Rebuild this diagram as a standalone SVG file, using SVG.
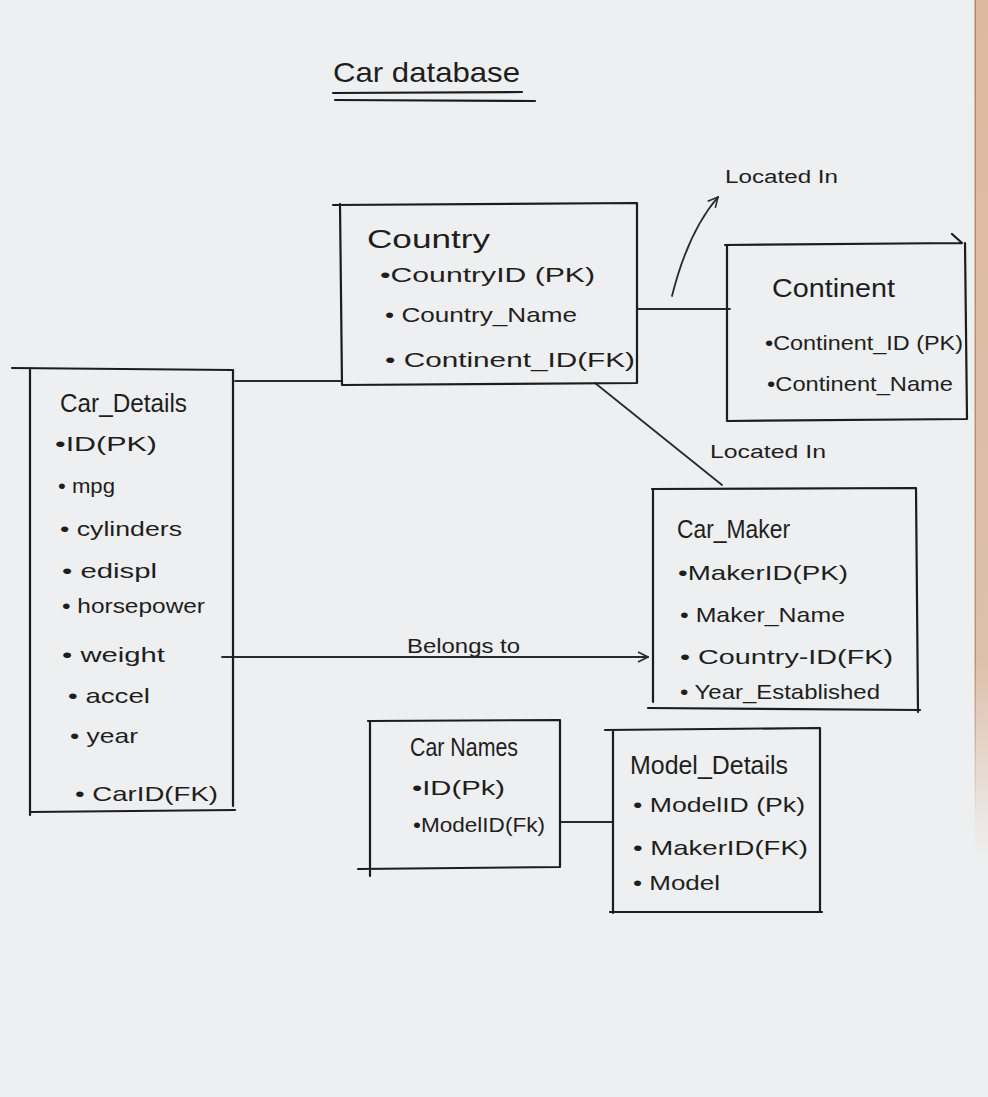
<svg xmlns="http://www.w3.org/2000/svg" width="988" height="1097" viewBox="0 0 988 1097">
<defs>
<style>
.bg{fill:#eeeff0}
.edge{fill:none;stroke:#1c1c1c;stroke-width:2.2;stroke-linecap:round;stroke-linejoin:round}
.conn{fill:none;stroke:#2a2a2a;stroke-width:1.8;stroke-linecap:round}
.t{font-family:"Liberation Sans",Arial,sans-serif;fill:#1e1e1e}
.h{font-size:25px}
.i{font-size:21px}
.l{font-size:18px}
.title{font-size:28px}
</style>
<linearGradient id="strip" x1="0" y1="0" x2="0" y2="1">
<stop offset="0" stop-color="#dcbaa0" stop-opacity="1"/>
<stop offset="0.6" stop-color="#dcbaa0" stop-opacity="0.9"/>
<stop offset="0.78" stop-color="#dcbaa0" stop-opacity="0"/>
</linearGradient>
<linearGradient id="stripline" x1="0" y1="0" x2="0" y2="1">
<stop offset="0" stop-color="#b98662" stop-opacity="1"/>
<stop offset="0.6" stop-color="#b98662" stop-opacity="0.8"/>
<stop offset="0.75" stop-color="#b98662" stop-opacity="0"/>
</linearGradient>
<marker id="open" viewBox="0 0 12 12" refX="11" refY="6" markerWidth="12" markerHeight="12" markerUnits="userSpaceOnUse" orient="auto">
<path d="M1,1 L11,6 L1,11" fill="none" stroke="#2a2a2a" stroke-width="1.6"/>
</marker>
</defs>
<rect class="bg" x="0" y="0" width="988" height="1097"/>
<rect x="975" y="0" width="13" height="1097" fill="url(#strip)"/>
<rect x="974.5" y="0" width="1.5" height="1097" fill="url(#stripline)"/>

<g id="title">
<text class="t title" x="333" y="82" textLength="187" lengthAdjust="spacingAndGlyphs">Car database</text>
<path class="edge" d="M333,93 L522,92 M335,100 L535,101"/>
</g>

<g id="connectors">
<path class="conn" d="M235,381 L341,381"/>
<path class="conn" d="M638,309 L730,309"/>
<path class="conn" d="M595,383 L722,485"/>
<path class="conn" d="M222,657 L648,657" marker-end="url(#open)"/>
<path class="conn" d="M560,822 L613,822"/>
<path class="conn" d="M672,296 Q688,232 718,197" marker-end="url(#open)"/>
<text class="t l" x="725" y="183" textLength="113" lengthAdjust="spacingAndGlyphs">Located In</text>
<text class="t l" x="710" y="458" textLength="116" lengthAdjust="spacingAndGlyphs">Located In</text>
<text class="t i" x="407" y="653" textLength="113" lengthAdjust="spacingAndGlyphs">Belongs to</text>
</g>

<g id="country">
<path class="edge" d="M333,205 L637,203 L637,383 L342,385 L340,204"/>
<text class="t h" x="367" y="248" textLength="123" lengthAdjust="spacingAndGlyphs">Country</text>
<text class="t i" x="380" y="282" textLength="215" lengthAdjust="spacingAndGlyphs">•CountryID (PK)</text>
<text class="t i" x="385" y="322" textLength="192" lengthAdjust="spacingAndGlyphs">• Country_Name</text>
<text class="t i" x="385" y="367" textLength="250" lengthAdjust="spacingAndGlyphs">• Continent_ID(FK)</text>
</g>

<g id="continent">
<path class="edge" d="M725,245 L962,243 M952,234 L962,243 M965,243 L967,419 L727,421 L727,245"/>
<text class="t h" x="772" y="297" textLength="123" lengthAdjust="spacingAndGlyphs">Continent</text>
<text class="t i" x="765" y="350" textLength="198" lengthAdjust="spacingAndGlyphs">•Continent_ID (PK)</text>
<text class="t i" x="767" y="391" textLength="186" lengthAdjust="spacingAndGlyphs">•Continent_Name</text>
</g>

<g id="car_details">
<path class="edge" d="M12,368 L233,370 L233,806 M30,368 L30,815 M30,812 L235,810"/>
<text class="t h" x="60" y="412" textLength="127" lengthAdjust="spacingAndGlyphs">Car_Details</text>
<text class="t i" x="55" y="451" textLength="102" lengthAdjust="spacingAndGlyphs">•ID(PK)</text>
<text class="t i" x="58" y="493" textLength="57" lengthAdjust="spacingAndGlyphs">• mpg</text>
<text class="t i" x="60" y="536" textLength="122" lengthAdjust="spacingAndGlyphs">• cylinders</text>
<text class="t i" x="62" y="578" textLength="95" lengthAdjust="spacingAndGlyphs">• edispl</text>
<text class="t i" x="62" y="613" textLength="143" lengthAdjust="spacingAndGlyphs">• horsepower</text>
<text class="t i" x="62" y="662" textLength="103" lengthAdjust="spacingAndGlyphs">• weight</text>
<text class="t i" x="68" y="703" textLength="82" lengthAdjust="spacingAndGlyphs">• accel</text>
<text class="t i" x="70" y="743" textLength="68" lengthAdjust="spacingAndGlyphs">• year</text>
<text class="t i" x="75" y="801" textLength="143" lengthAdjust="spacingAndGlyphs">• CarID(FK)</text>
</g>

<g id="car_maker">
<path class="edge" d="M652,489 L916,488 L918,712 M653,489 L653,702 M648,708 L920,710"/>
<text class="t h" x="677" y="538" textLength="113" lengthAdjust="spacingAndGlyphs">Car_Maker</text>
<text class="t i" x="678" y="580" textLength="170" lengthAdjust="spacingAndGlyphs">•MakerID(PK)</text>
<text class="t i" x="680" y="622" textLength="165" lengthAdjust="spacingAndGlyphs">• Maker_Name</text>
<text class="t i" x="680" y="664" textLength="213" lengthAdjust="spacingAndGlyphs">• Country-ID(FK)</text>
<text class="t i" x="680" y="699" textLength="200" lengthAdjust="spacingAndGlyphs">• Year_Established</text>
</g>

<g id="car_names">
<path class="edge" d="M368,721 L560,720 L560,866 M370,721 L370,876 M358,869 L560,867"/>
<text class="t h" x="410" y="756" textLength="108" lengthAdjust="spacingAndGlyphs">Car Names</text>
<text class="t i" x="412" y="795" textLength="93" lengthAdjust="spacingAndGlyphs">•ID(Pk)</text>
<text class="t i" x="413" y="832" textLength="132" lengthAdjust="spacingAndGlyphs">•ModelID(Fk)</text>
</g>

<g id="model_details">
<path class="edge" d="M605,730 L820,728 L820,912 M613,730 L613,913 M610,912 L822,912"/>
<text class="t h" x="630" y="774" textLength="158" lengthAdjust="spacingAndGlyphs">Model_Details</text>
<text class="t i" x="633" y="812" textLength="172" lengthAdjust="spacingAndGlyphs">• ModelID (Pk)</text>
<text class="t i" x="633" y="855" textLength="175" lengthAdjust="spacingAndGlyphs">• MakerID(FK)</text>
<text class="t i" x="633" y="890" textLength="87" lengthAdjust="spacingAndGlyphs">• Model</text>
</g>
</svg>
